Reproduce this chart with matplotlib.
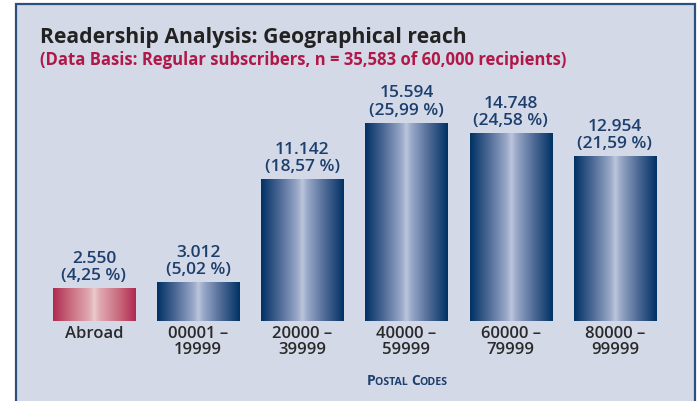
import matplotlib.pyplot as plt
import numpy as np
from matplotlib.colors import LinearSegmentedColormap
from matplotlib.patches import Rectangle
from matplotlib.offsetbox import TextArea, HPacker, AnchoredOffsetbox

plt.rcParams["font.family"] = ["Open Sans", "DejaVu Sans"]

categories = ["Abroad", "00001 \u2013\n19999", "20000 \u2013\n39999",
              "40000 \u2013\n59999", "60000 \u2013\n79999", "80000 \u2013\n99999"]
values = [2550, 3012, 11142, 15594, 14748, 12954]
value_labels = ["2.550", "3.012", "11.142", "15.594", "14.748", "12.954"]
percent_labels = ["4,25 %", "5,02 %", "18,57 %", "25,99 %", "24,58 %", "21,59 %"]

BG = "#d3d9e7"
BORDER = "#2b4f7e"
LABEL_BLUE = "#1d3f6e"

blue_cmap = LinearSegmentedColormap.from_list(
    "blue_bar",
    [(0.0, "#003264"), (0.22, "#4c6895"), (0.44, "#9aa9c8"), (0.5, "#bcc5dc"),
     (0.56, "#9aa9c8"), (0.78, "#4c6895"), (1.0, "#003264")])
red_cmap = LinearSegmentedColormap.from_list(
    "red_bar",
    [(0.0, "#b02a50"), (0.22, "#cb6f82"), (0.44, "#e0aab2"), (0.5, "#ebcacd"),
     (0.56, "#e0aab2"), (0.78, "#cb6f82"), (1.0, "#b02a50")])

fig = plt.figure(figsize=(6.97, 4.01), dpi=100)
fig.patch.set_facecolor("white")

# framed panel
panel = Rectangle((16 / 697, -0.05), (695 - 16) / 697, 1 - 3.5 / 401 + 0.05,
                  transform=fig.transFigure, facecolor=BG, edgecolor=BORDER,
                  linewidth=1.6, zorder=-5)
fig.patches.append(panel)

fig.text(40 / 697, 1 - 37 / 401, "Readership Analysis: Geographical reach",
         fontsize=15.2, fontweight="bold", color="#222222", va="center", ha="left")
fig.text(40 / 697, 1 - 60 / 401,
         "(Data Basis: Regular subscribers, n = 35,583 of 60,000 recipients)",
         fontsize=12, fontweight="bold", color="#b01848", va="center", ha="left")

ax = fig.add_axes([41.9 / 697, 80.3 / 401, 625 / 697, 240.7 / 401])
ax.patch.set_visible(False)
for s in ax.spines.values():
    s.set_visible(False)

ymax = 18960
width = 0.79
grad = np.linspace(0, 1, 256).reshape(1, -1)
for i, (v, vl, pl) in enumerate(zip(values, value_labels, percent_labels)):
    cmap = red_cmap if i == 0 else blue_cmap
    ax.imshow(grad, cmap=cmap, aspect="auto", interpolation="bilinear",
              extent=[i - width / 2, i + width / 2, 0, v], zorder=2)
    ax.annotate(f"{vl}\n({pl})", (i, v), xytext=(0, 3), textcoords="offset points",
                ha="center", va="bottom", fontsize=12.5, fontweight="semibold",
                color=LABEL_BLUE, linespacing=1.12)

ax.set_xlim(-0.5, len(values) - 0.5)
ax.set_ylim(0, ymax)
ax.set_yticks([])
ax.set_xticks(range(len(categories)))
ax.set_xticklabels(categories, fontsize=12, fontweight="semibold", color="#2a2a2a",
                   linespacing=0.95)
ax.tick_params(axis="x", length=0, pad=4)

# "Postal Codes" in small caps
parts = [("P", 10), ("OSTAL ", 7.6), ("C", 10), ("ODES", 7.6)]
boxes = [TextArea(t, textprops=dict(fontsize=s, color=LABEL_BLUE, fontweight="bold"))
         for t, s in parts]
pack = HPacker(children=boxes, align="baseline", pad=0, sep=0)
anchored = AnchoredOffsetbox(loc="center", child=pack, frameon=False,
                             bbox_to_anchor=(407 / 697, 1 - 381 / 401),
                             bbox_transform=fig.transFigure, pad=0, borderpad=0)
fig.add_artist(anchored)

fig.savefig("out.png", dpi=100, facecolor=fig.get_facecolor())
